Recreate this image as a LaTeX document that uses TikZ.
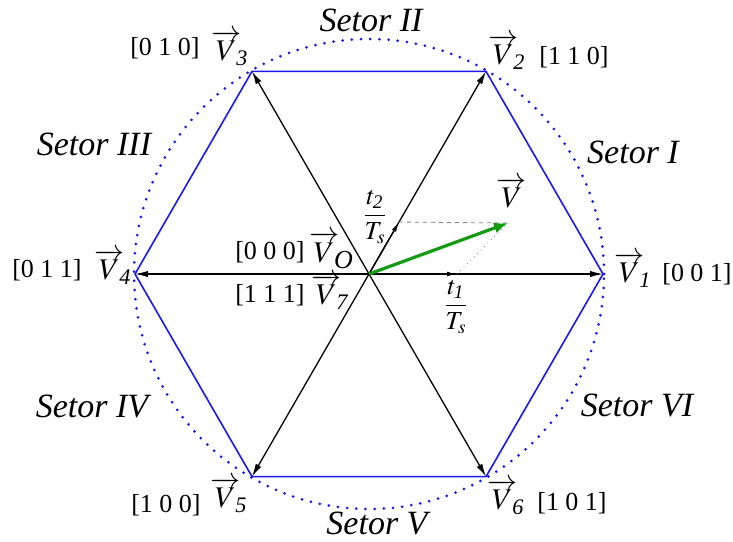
\documentclass[tikz,border=0pt]{standalone}
\usepackage{amsmath}
\usepackage{mathptmx}
\usepackage{fontspec}
\setmainfont{Liberation Serif}
\usetikzlibrary{arrows.meta}
\definecolor{HexBlue}{RGB}{25,25,235}
\definecolor{VecGreen}{RGB}{20,155,20}
\newcommand{\vsp}[1]{$\overrightarrow{V}_{\!\!\textit{#1}}$}

\begin{document}
\begin{tikzpicture}[x=0.5pt, y=0.5pt,
		hexline/.style={draw=HexBlue, line width=0.8pt},
		circ/.style={draw=HexBlue, line width=1.5pt, line cap=round, dash pattern=on 0pt off 4.6pt},
		spoke/.style={-{Latex[length=6.5pt, width=3.2pt]}, line width=0.65pt},
		midtip/.style={-{Latex[length=5pt, width=2.4pt]}, line width=0.65pt},
		vec/.style={-{Latex[length=7pt, width=5.5pt]}, VecGreen, line width=1.6pt},
		proj/.style={gray, line width=0.4pt},
		sector/.style={font=\fontsize{17}{20}\selectfont\itshape},
		vlab/.style={font=\fontsize{15}{18}\selectfont, inner sep=0pt},
		code/.style={font=\fontsize{13}{15}\selectfont, inner sep=0pt}]
	\useasboundingbox (-369,-267) rectangle (364,274);
	\coordinate (o) at (0,0);
	\foreach \i in {1,...,6}{\coordinate (v\i) at ({60*(\i-1)}:234);}
	\draw[circ] (o) circle (235);
	\draw[hexline] (v1) -- (v2) -- (v3) -- (v4) -- (v5) -- (v6) -- cycle;
	\foreach \i in {1,...,6}{\draw[spoke] (o) -- (v\i);}
	% components of the reference vector
	\coordinate (t1) at (88,0);
	\coordinate (t2) at (60:60);
	\coordinate (v) at (139,51);
	\draw[proj, dashed, dash pattern=on 2pt off 2pt] (t2) -- (v);
	\draw[proj, dotted] (t1) -- (v);
	\draw[midtip] (o) -- (t1);
	\draw[midtip] (o) -- (t2);
	\draw[vec] (o) -- (v);
	% labels
	\foreach \i/\x/\y/\cx/\cy/\cod in {1/264/4/328/0/{0 0 1}, 2/138/222/205/217/{1 1 0}, 3/-139/226/-204/226/{0 1 0},
		4/-256/7/-322/4/{0 1 1}, 5/-140/-221/-203/-231/{1 0 0}, 6/137/-223/203/-229/{1 0 1}}{
		\node[vlab] (lv\i) at (\x,\y) {\vsp{\i}};
		\node[code] (c\i) at (\cx,\cy) {[\cod]};
	}
	\node[vlab] (lv0) at (-38,24) {$\overrightarrow{V}\mkern-3mu\raisebox{-0.45ex}{\fontsize{13}{15}\selectfont\textit{O}}$};
	\node[code] (c0) at (-99,22) {[0 0 0]};
	\node[vlab] (lv7) at (-39,-18) {\vsp{7}};
	\node[code] (c7) at (-99,-21) {[1 1 1]};
	\node[vlab] (lv) at (143,81) {$\overrightarrow{V}$};
	\node[code] (f2) at (6,57) {$\displaystyle\frac{t_{\textit{2}}}{T_s}$};
	\node[code] (f1) at (87,-33) {$\displaystyle\frac{t_{\textit{1}}}{T_s}$};
	\foreach \s/\x/\y in {I/264/122, II/2/254, III/-275/130, IV/-277/-132, V/8/-249, VI/268/-131}{
		\node[sector] (s\s) at (\x,\y) {Setor \s};
	}
\end{tikzpicture}
\end{document}
